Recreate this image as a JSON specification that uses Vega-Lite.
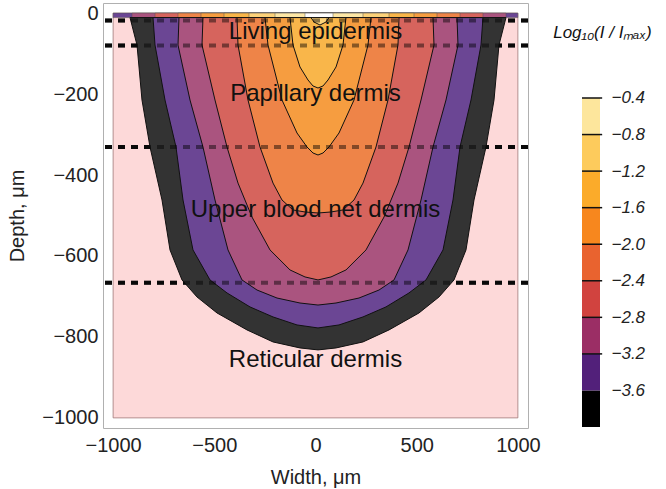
{
  "$schema": "https://vega.github.io/schema/vega-lite/v6.json",
  "autosize": "none",
  "width": 425,
  "height": 425,
  "padding": {"left": 103, "top": 3, "right": 138, "bottom": 61},
  "background": "white",
  "config": {"view": {"stroke": "#b0b0b0", "strokeWidth": 1}, "font": "Liberation Sans"},
  "datasets": {
    "region": [{"xl": -1000, "xr": 1000, "top": 0, "bottom": -1000}],
    "layers": [{"depth": -18}, {"depth": -80}, {"depth": -331}, {"depth": -666}],
    "strip": [
      {"level": -3.6, "xl": -1000, "xr": 1000, "top": 0, "bottom": -11},
      {"level": -3.2, "xl": -906.7, "xr": 941.3, "top": 0, "bottom": -11},
      {"level": -2.8, "xl": -793, "xr": 827.6, "top": 0, "bottom": -11},
      {"level": -2.4, "xl": -679.4, "xr": 714, "top": 0, "bottom": -11},
      {"level": -2.0, "xl": -565.7, "xr": 600.3, "top": 0, "bottom": -11},
      {"level": -1.6, "xl": -452.1, "xr": 486.7, "top": 0, "bottom": -11},
      {"level": -1.2, "xl": -328.6, "xr": 363.2, "top": 0, "bottom": -11},
      {"level": -0.8, "xl": -200.1, "xr": 234.7, "top": 0, "bottom": -11},
      {"level": -0.4, "xl": -51.9, "xr": 86.5, "top": 0, "bottom": -11}
    ],
    "contours": [
      {"level": -4.0, "depth": -11, "xl": -916.6, "xr": 941.3},
      {"level": -4.0, "depth": -78.8, "xl": -882, "xr": 906.7},
      {"level": -4.0, "depth": -214.7, "xl": -857.3, "xr": 882},
      {"level": -4.0, "depth": -330.8, "xl": -817.7, "xr": 842.4},
      {"level": -4.0, "depth": -461.7, "xl": -758.4, "xr": 783.2},
      {"level": -4.0, "depth": -585.1, "xl": -718.9, "xr": 743.6},
      {"level": -4.0, "depth": -659.2, "xl": -659.6, "xr": 684.3},
      {"level": -4.0, "depth": -701.3, "xl": -585.5, "xr": 610.2},
      {"level": -4.0, "depth": -740.8, "xl": -486.7, "xr": 511.4},
      {"level": -4.0, "depth": -782.7, "xl": -338.5, "xr": 363.2},
      {"level": -4.0, "depth": -812.4, "xl": -210, "xr": 234.7},
      {"level": -4.0, "depth": -827.2, "xl": -76.6, "xr": 101.3},
      {"level": -4.0, "depth": -832.1, "xl": 12.4, "xr": 12.4},

      {"level": -3.6, "depth": -11, "xl": -802.9, "xr": 827.6},
      {"level": -3.6, "depth": -78.8, "xl": -793, "xr": 817.7},
      {"level": -3.6, "depth": -214.7, "xl": -743.6, "xr": 768.3},
      {"level": -3.6, "depth": -330.8, "xl": -689.3, "xr": 714},
      {"level": -3.6, "depth": -461.7, "xl": -654.7, "xr": 679.4},
      {"level": -3.6, "depth": -585.1, "xl": -605.3, "xr": 630},
      {"level": -3.6, "depth": -659.2, "xl": -521.3, "xr": 546},
      {"level": -3.6, "depth": -691.3, "xl": -437.3, "xr": 462},
      {"level": -3.6, "depth": -725.9, "xl": -323.6, "xr": 348.3},
      {"level": -3.6, "depth": -750.6, "xl": -210, "xr": 234.7},
      {"level": -3.6, "depth": -770.4, "xl": -91.4, "xr": 116.1},
      {"level": -3.6, "depth": -777.8, "xl": 12.4, "xr": 12.4},

      {"level": -3.2, "depth": -11, "xl": -674.4, "xr": 699.2},
      {"level": -3.2, "depth": -78.8, "xl": -679.4, "xr": 704.1},
      {"level": -3.2, "depth": -214.7, "xl": -620.1, "xr": 644.8},
      {"level": -3.2, "depth": -330.8, "xl": -555.9, "xr": 580.6},
      {"level": -3.2, "depth": -461.7, "xl": -496.6, "xr": 521.3},
      {"level": -3.2, "depth": -585.1, "xl": -432.3, "xr": 457},
      {"level": -3.2, "depth": -659.2, "xl": -363.2, "xr": 387.9},
      {"level": -3.2, "depth": -684.1, "xl": -289, "xr": 313.8},
      {"level": -3.2, "depth": -703.9, "xl": -190.2, "xr": 214.9},
      {"level": -3.2, "depth": -716.2, "xl": -76.6, "xr": 101.3},
      {"level": -3.2, "depth": -721.2, "xl": 12.4, "xr": 12.4},

      {"level": -2.8, "depth": -11, "xl": -555.9, "xr": 580.6},
      {"level": -2.8, "depth": -78.8, "xl": -560.8, "xr": 585.5},
      {"level": -2.8, "depth": -214.7, "xl": -496.6, "xr": 521.3},
      {"level": -2.8, "depth": -330.8, "xl": -437.3, "xr": 462},
      {"level": -2.8, "depth": -419.9, "xl": -382.9, "xr": 407.6},
      {"level": -2.8, "depth": -503.8, "xl": -313.8, "xr": 338.5},
      {"level": -2.8, "depth": -585.1, "xl": -224.8, "xr": 249.5},
      {"level": -2.8, "depth": -634.5, "xl": -126, "xr": 150.7},
      {"level": -2.8, "depth": -651.8, "xl": -51.9, "xr": 76.6},
      {"level": -2.8, "depth": -659.2, "xl": 12.4, "xr": 12.4},

      {"level": -2.4, "depth": -11, "xl": -387.9, "xr": 412.6},
      {"level": -2.4, "depth": -78.8, "xl": -382.9, "xr": 407.6},
      {"level": -2.4, "depth": -214.7, "xl": -333.5, "xr": 358.2},
      {"level": -2.4, "depth": -330.8, "xl": -274.2, "xr": 298.9},
      {"level": -2.4, "depth": -419.9, "xl": -210, "xr": 234.7},
      {"level": -2.4, "depth": -461.7, "xl": -165.5, "xr": 190.2},
      {"level": -2.4, "depth": -486.3, "xl": -111.2, "xr": 135.9},
      {"level": -2.4, "depth": -491.3, "xl": -51.9, "xr": 76.6},
      {"level": -2.4, "depth": -493.8, "xl": 12.4, "xr": 12.4},

      {"level": -2.0, "depth": -11, "xl": -249.5, "xr": 274.2},
      {"level": -2.0, "depth": -78.8, "xl": -234.7, "xr": 259.4},
      {"level": -2.0, "depth": -214.7, "xl": -165.5, "xr": 190.2},
      {"level": -2.0, "depth": -296.2, "xl": -91.4, "xr": 116.1},
      {"level": -2.0, "depth": -330.8, "xl": -42, "xr": 66.7},
      {"level": -2.0, "depth": -345.6, "xl": -12.4, "xr": 37.1},
      {"level": -2.0, "depth": -350.5, "xl": 12.4, "xr": 12.4},

      {"level": -1.6, "depth": -11, "xl": -126, "xr": 150.7},
      {"level": -1.6, "depth": -78.8, "xl": -111.2, "xr": 135.9},
      {"level": -1.6, "depth": -133.1, "xl": -76.6, "xr": 101.3},
      {"level": -1.6, "depth": -165.2, "xl": -37.1, "xr": 61.8},
      {"level": -1.6, "depth": -180, "xl": -12.4, "xr": 37.1},
      {"level": -1.6, "depth": -185, "xl": 12.4, "xr": 12.4},

      {"level": -1.2, "depth": -11, "xl": -22.2, "xr": 66.7},
      {"level": -1.2, "depth": -22, "xl": -7.4, "xr": 51.9},
      {"level": -1.2, "depth": -29.4, "xl": 22.2, "xr": 22.2}
    ],
    "labels": [
      {"text": "Living epidermis", "x": 0, "depth": -63},
      {"text": "Papillary dermis", "x": 0, "depth": -216},
      {"text": "Upper blood net dermis", "x": 0, "depth": -503},
      {"text": "Reticular dermis", "x": 0, "depth": -874}
    ],
    "colorbar": [
      {"band": -4.0, "lo": -4.0, "hi": -3.6},
      {"band": -3.6, "lo": -3.6, "hi": -3.2},
      {"band": -3.2, "lo": -3.2, "hi": -2.8},
      {"band": -2.8, "lo": -2.8, "hi": -2.4},
      {"band": -2.4, "lo": -2.4, "hi": -2.0},
      {"band": -2.0, "lo": -2.0, "hi": -1.6},
      {"band": -1.6, "lo": -1.6, "hi": -1.2},
      {"band": -1.2, "lo": -1.2, "hi": -0.8},
      {"band": -0.8, "lo": -0.8, "hi": -0.4}
    ],
    "cblines": [{"v": -0.4}, {"v": -0.8}, {"v": -1.2}, {"v": -1.6}, {"v": -2.0}, {"v": -2.4}, {"v": -2.8}, {"v": -3.2}],
    "cbtitle": [{"t": "Log₁₀(I / Iₘₐₓ)", "x": -1.6, "v": 0.257}]
  },
  "layer": [
    {
      "layer": [
        {
          "data": {"name": "region"},
          "mark": {"type": "rect", "fill": "#fdd9d9", "stroke": "#a07878", "strokeWidth": 0.8},
          "encoding": {
            "x": {"field": "xl", "type": "quantitative", "scale": {"domain": [-1050, 1050], "nice": false, "zero": false},
              "axis": {"title": "Width, μm", "format": "d", "values": [-1000, -500, 0, 500, 1000], "labelFontSize": 20, "labelColor": "#222", "titleFontSize": 20, "titleFontWeight": "normal", "titleColor": "#222", "domain": false, "ticks": false, "grid": false, "labelPadding": 7, "titlePadding": 12, "labelFlush": false, "labelOverlap": false, "labelFont": "Liberation Sans", "titleFont": "Liberation Sans"}},
            "x2": {"field": "xr"},
            "y": {"field": "top", "type": "quantitative", "scale": {"domain": [-1025, 25], "nice": false, "zero": false},
              "axis": {"title": "Depth, μm", "format": "d", "values": [0, -200, -400, -600, -800, -1000], "labelFontSize": 20, "labelColor": "#222", "titleFontSize": 20, "titleFontWeight": "normal", "titleColor": "#222", "domain": false, "ticks": false, "grid": false, "labelPadding": 5, "titlePadding": 14, "labelFlush": false, "labelOverlap": false, "labelFont": "Liberation Sans", "titleFont": "Liberation Sans"}},
            "y2": {"field": "bottom"}
          }
        },
        {
          "data": {"name": "layers"},
          "mark": {"type": "rule", "stroke": "#111111", "strokeWidth": 4, "strokeDash": [7, 6]},
          "encoding": {
            "y": {"field": "depth", "type": "quantitative", "scale": {"domain": [-1025, 25], "nice": false, "zero": false},
              "axis": {"title": "Depth, μm", "format": "d", "values": [0, -200, -400, -600, -800, -1000], "labelFontSize": 20, "labelColor": "#222", "titleFontSize": 20, "titleFontWeight": "normal", "titleColor": "#222", "domain": false, "ticks": false, "grid": false, "labelPadding": 5, "titlePadding": 14, "labelFlush": false, "labelOverlap": false, "labelFont": "Liberation Sans", "titleFont": "Liberation Sans"}}
          }
        },
        {
          "data": {"name": "strip"},
          "mark": {"type": "rect", "stroke": "#555555", "strokeWidth": 0.5},
          "encoding": {
            "x": {"field": "xl", "type": "quantitative", "scale": {"domain": [-1050, 1050], "nice": false, "zero": false},
              "axis": {"title": "Width, μm", "format": "d", "values": [-1000, -500, 0, 500, 1000], "labelFontSize": 20, "labelColor": "#222", "titleFontSize": 20, "titleFontWeight": "normal", "titleColor": "#222", "domain": false, "ticks": false, "grid": false, "labelPadding": 7, "titlePadding": 12, "labelFlush": false, "labelOverlap": false, "labelFont": "Liberation Sans", "titleFont": "Liberation Sans"}},
            "x2": {"field": "xr"},
            "y": {"field": "top", "type": "quantitative", "scale": {"domain": [-1025, 25], "nice": false, "zero": false},
              "axis": {"title": "Depth, μm", "format": "d", "values": [0, -200, -400, -600, -800, -1000], "labelFontSize": 20, "labelColor": "#222", "titleFontSize": 20, "titleFontWeight": "normal", "titleColor": "#222", "domain": false, "ticks": false, "grid": false, "labelPadding": 5, "titlePadding": 14, "labelFlush": false, "labelOverlap": false, "labelFont": "Liberation Sans", "titleFont": "Liberation Sans"}},
            "y2": {"field": "bottom"},
            "color": {"field": "level", "type": "ordinal", "legend": null,
              "scale": {"domain": [-4.0, -3.6, -3.2, -2.8, -2.4, -2.0, -1.6, -1.2, -0.8, -0.4],
                "range": ["#333333", "#6b4694", "#aa547f", "#d6645d", "#ee8448", "#f69d40", "#f9b64a", "#fcd27a", "#fde7a6", "#ffffff"]}}
          }
        },
        {
          "data": {"name": "contours"},
          "mark": {"type": "area", "orient": "horizontal", "stroke": "#111111", "strokeWidth": 1},
          "encoding": {
            "y": {"field": "depth", "type": "quantitative", "scale": {"domain": [-1025, 25], "nice": false, "zero": false},
              "axis": {"title": "Depth, μm", "format": "d", "values": [0, -200, -400, -600, -800, -1000], "labelFontSize": 20, "labelColor": "#222", "titleFontSize": 20, "titleFontWeight": "normal", "titleColor": "#222", "domain": false, "ticks": false, "grid": false, "labelPadding": 5, "titlePadding": 14, "labelFlush": false, "labelOverlap": false, "labelFont": "Liberation Sans", "titleFont": "Liberation Sans"}},
            "x": {"field": "xl", "type": "quantitative", "scale": {"domain": [-1050, 1050], "nice": false, "zero": false},
              "axis": {"title": "Width, μm", "format": "d", "values": [-1000, -500, 0, 500, 1000], "labelFontSize": 20, "labelColor": "#222", "titleFontSize": 20, "titleFontWeight": "normal", "titleColor": "#222", "domain": false, "ticks": false, "grid": false, "labelPadding": 7, "titlePadding": 12, "labelFlush": false, "labelOverlap": false, "labelFont": "Liberation Sans", "titleFont": "Liberation Sans"}},
            "x2": {"field": "xr"},
            "color": {"field": "level", "type": "ordinal", "legend": null,
              "scale": {"domain": [-4.0, -3.6, -3.2, -2.8, -2.4, -2.0, -1.6, -1.2, -0.8, -0.4],
                "range": ["#333333", "#6b4694", "#aa547f", "#d6645d", "#ee8448", "#f69d40", "#f9b64a", "#fcd27a", "#fde7a6", "#ffffff"]}}
          }
        },
        {
          "data": {"name": "layers"},
          "mark": {"type": "rule", "stroke": "#000000", "strokeOpacity": 0.45, "strokeWidth": 4, "strokeDash": [7, 6]},
          "encoding": {
            "y": {"field": "depth", "type": "quantitative", "scale": {"domain": [-1025, 25], "nice": false, "zero": false},
              "axis": {"title": "Depth, μm", "format": "d", "values": [0, -200, -400, -600, -800, -1000], "labelFontSize": 20, "labelColor": "#222", "titleFontSize": 20, "titleFontWeight": "normal", "titleColor": "#222", "domain": false, "ticks": false, "grid": false, "labelPadding": 5, "titlePadding": 14, "labelFlush": false, "labelOverlap": false, "labelFont": "Liberation Sans", "titleFont": "Liberation Sans"}}
          }
        },
        {
          "data": {"name": "labels"},
          "mark": {"type": "text", "fontSize": 24, "font": "Liberation Sans", "color": "#111111", "align": "center", "baseline": "alphabetic"},
          "encoding": {
            "x": {"field": "x", "type": "quantitative", "scale": {"domain": [-1050, 1050], "nice": false, "zero": false},
              "axis": {"title": "Width, μm", "format": "d", "values": [-1000, -500, 0, 500, 1000], "labelFontSize": 20, "labelColor": "#222", "titleFontSize": 20, "titleFontWeight": "normal", "titleColor": "#222", "domain": false, "ticks": false, "grid": false, "labelPadding": 7, "titlePadding": 12, "labelFlush": false, "labelOverlap": false, "labelFont": "Liberation Sans", "titleFont": "Liberation Sans"}},
            "y": {"field": "depth", "type": "quantitative", "scale": {"domain": [-1025, 25], "nice": false, "zero": false},
              "axis": {"title": "Depth, μm", "format": "d", "values": [0, -200, -400, -600, -800, -1000], "labelFontSize": 20, "labelColor": "#222", "titleFontSize": 20, "titleFontWeight": "normal", "titleColor": "#222", "domain": false, "ticks": false, "grid": false, "labelPadding": 5, "titlePadding": 14, "labelFlush": false, "labelOverlap": false, "labelFont": "Liberation Sans", "titleFont": "Liberation Sans"}},
            "text": {"field": "text"}
          }
        }
      ]
    },
    {
      "layer": [
        {
          "data": {"name": "colorbar"},
          "mark": {"type": "rect"},
          "encoding": {
            "x": {"datum": 0, "type": "quantitative", "scale": {"domain": [-26.611, -3.0], "nice": false, "zero": false}, "axis": null},
            "x2": {"datum": 1},
            "y": {"field": "hi", "type": "quantitative", "scale": {"domain": [-4.0109, 0.6395], "nice": false, "zero": false},
              "axis": {"orient": "right", "offset": 72, "values": [-0.4, -0.8, -1.2, -1.6, -2.0, -2.4, -2.8, -3.2, -3.6], "format": ".1f", "labelFontStyle": "italic", "labelFontSize": 17, "labelColor": "#222", "labelFont": "Liberation Sans", "ticks": false, "tickSize": 0, "domain": false, "grid": false, "labelPadding": 11, "title": null, "labelFlush": false, "labelOverlap": false}},
            "y2": {"field": "lo"},
            "color": {"field": "band", "type": "ordinal", "legend": null,
              "scale": {"domain": [-4.0, -3.6, -3.2, -2.8, -2.4, -2.0, -1.6, -1.2, -0.8],
                "range": ["#000000", "#52207a", "#9b2e65", "#d1433f", "#e9632f", "#f7871e", "#fbab2a", "#fdcb5c", "#fde69c"]}}
          }
        },
        {
          "data": {"name": "cblines"},
          "mark": {"type": "rule", "stroke": "#111111", "strokeWidth": 1.5},
          "encoding": {
            "x": {"datum": 0, "type": "quantitative", "scale": {"domain": [-26.611, -3.0], "nice": false, "zero": false}, "axis": null},
            "x2": {"datum": 1.12},
            "y": {"field": "v", "type": "quantitative", "scale": {"domain": [-4.0109, 0.6395], "nice": false, "zero": false},
              "axis": {"orient": "right", "offset": 72, "values": [-0.4, -0.8, -1.2, -1.6, -2.0, -2.4, -2.8, -3.2, -3.6], "format": ".1f", "labelFontStyle": "italic", "labelFontSize": 17, "labelColor": "#222", "labelFont": "Liberation Sans", "ticks": false, "tickSize": 0, "domain": false, "grid": false, "labelPadding": 11, "title": null, "labelFlush": false, "labelOverlap": false}}
          }
        },
        {
          "data": {"name": "cbtitle"},
          "mark": {"type": "text", "fontSize": 17, "fontStyle": "italic", "font": "Liberation Sans", "color": "#111111", "align": "left", "baseline": "alphabetic"},
          "encoding": {
            "x": {"field": "x", "type": "quantitative", "scale": {"domain": [-26.611, -3.0], "nice": false, "zero": false}, "axis": null},
            "y": {"field": "v", "type": "quantitative", "scale": {"domain": [-4.0109, 0.6395], "nice": false, "zero": false},
              "axis": {"orient": "right", "offset": 72, "values": [-0.4, -0.8, -1.2, -1.6, -2.0, -2.4, -2.8, -3.2, -3.6], "format": ".1f", "labelFontStyle": "italic", "labelFontSize": 17, "labelColor": "#222", "labelFont": "Liberation Sans", "ticks": false, "tickSize": 0, "domain": false, "grid": false, "labelPadding": 11, "title": null, "labelFlush": false, "labelOverlap": false}},
            "text": {"field": "t"}
          }
        }
      ]
    }
  ],
  "resolve": {
    "scale": {"x": "independent", "y": "independent", "color": "independent"},
    "axis": {"x": "independent", "y": "independent"}
  }
}
